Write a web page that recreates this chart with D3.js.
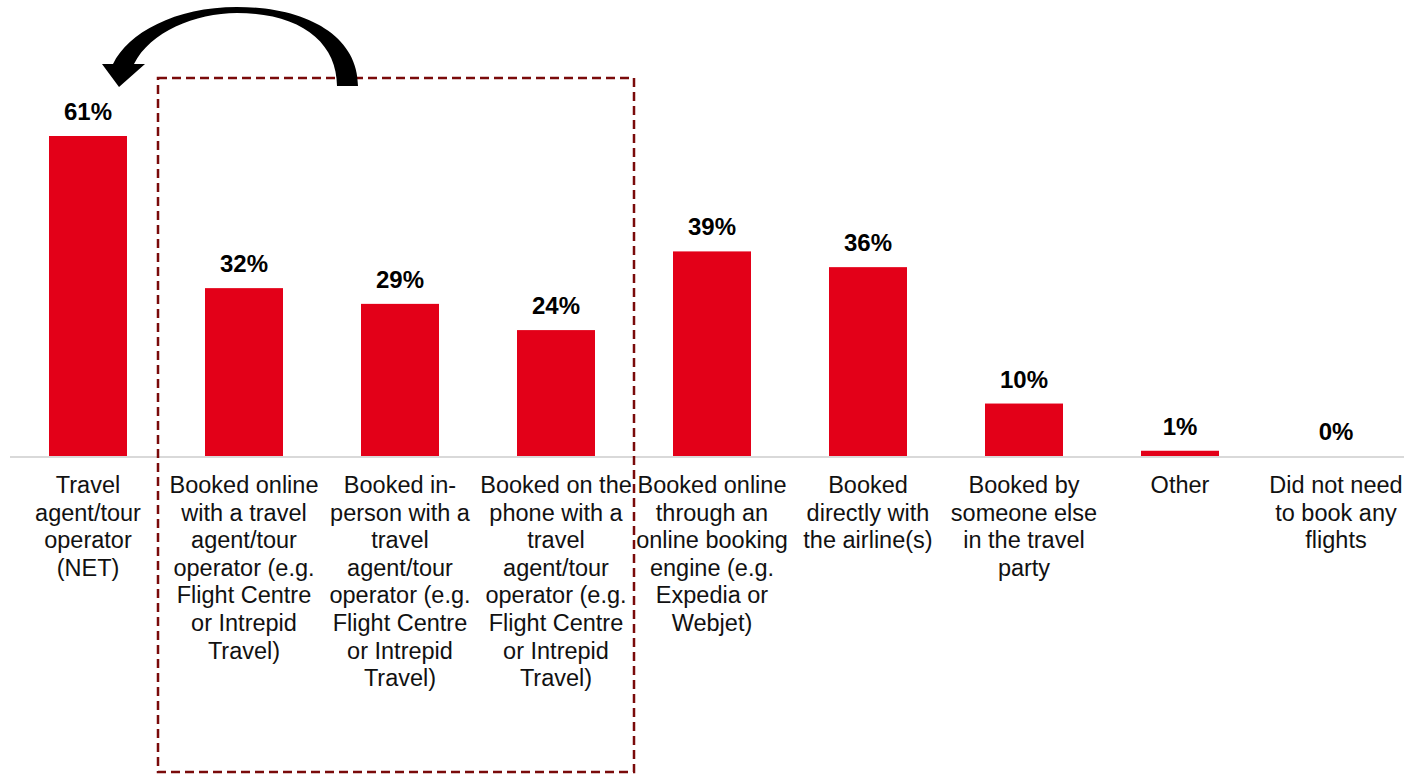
<!DOCTYPE html>
<html>
<head>
<meta charset="utf-8">
<title></title>
<style type="text/css">
  body { margin: 0; background: white; }
  svg { display: block; }
</style>
</head>
<body>
<div class="container"></div>
<script src="https://d3js.org/d3.v7.min.js"></script>
<script type="text/javascript">
var categories = [
  ["Travel", "agent/tour", "operator", "(NET)"],
  ["Booked online", "with a travel", "agent/tour", "operator (e.g.", "Flight Centre", "or Intrepid", "Travel)"],
  ["Booked in-", "person with a", "travel", "agent/tour", "operator (e.g.", "Flight Centre", "or Intrepid", "Travel)"],
  ["Booked on the", "phone with a", "travel", "agent/tour", "operator (e.g.", "Flight Centre", "or Intrepid", "Travel)"],
  ["Booked online", "through an", "online booking", "engine (e.g.", "Expedia or", "Webjet)"],
  ["Booked", "directly with", "the airline(s)"],
  ["Booked by", "someone else", "in the travel", "party"],
  ["Other"],
  ["Did not need", "to book any", "flights"]
]
var values = [61, 32, 29, 24, 39, 36, 10, 1, 0]

var wd = 1404
var ht = 775
var baseY = 456

var svg = d3.select(".container").append("svg")
  .attr("width", wd)
  .attr("height", ht)

var x = d3.scaleBand()
  .domain(d3.range(values.length))
  .range([10, 1414])
  .paddingInner(0.5)
  .paddingOuter(0.25)

var y = d3.scaleLinear()
  .domain([0, 61])
  .range([baseY, 136])

// bars
svg.selectAll("rect.bar")
  .data(values)
  .join("rect")
  .attr("class", "bar")
  .attr("x", function(d, i) { return x(i) })
  .attr("y", function(d) { return y(d) })
  .attr("width", x.bandwidth())
  .attr("height", function(d) { return baseY - y(d) })
  .attr("fill", "#e30018")

// axis line
svg.append("line")
  .attr("x1", 10).attr("x2", wd)
  .attr("y1", baseY + 1).attr("y2", baseY + 1)
  .attr("stroke", "#d9d9d9")
  .attr("stroke-width", 2)

// value labels
svg.selectAll("text.val")
  .data(values)
  .join("text")
  .attr("class", "val")
  .attr("x", function(d, i) { return x(i) + x.bandwidth() / 2 })
  .attr("y", function(d) { return y(d) - 16 })
  .attr("text-anchor", "middle")
  .style("font-family", "'Liberation Sans', Arial, sans-serif")
  .style("font-weight", "bold")
  .style("font-size", "24px")
  .text(function(d) { return d + "%" })

// category labels
var cat = svg.selectAll("text.cat")
  .data(categories)
  .join("text")
  .attr("class", "cat")
  .attr("text-anchor", "middle")
  .style("font-family", "'Liberation Sans', Arial, sans-serif")
  .style("font-size", "23.5px")
  .attr("fill", "#111")

cat.selectAll("tspan")
  .data(function(d, i) { return d.map(function(s) { return { s: s, i: i } }) })
  .join("tspan")
  .attr("x", function(d) { return x(d.i) + x.bandwidth() / 2 })
  .attr("y", function(d, j) { return 493 + j * 27.6 })
  .text(function(d) { return d.s })

// dashed box around the NET breakdown
svg.append("rect")
  .attr("x", 158).attr("y", 78)
  .attr("width", 476).attr("height", 694)
  .attr("fill", "none")
  .attr("stroke", "#7a0a0a")
  .attr("stroke-width", 2.5)
  .attr("stroke-dasharray", "9,5")

// curved arrow pointing back to the NET bar
svg.append("path")
  .attr("d", "M358,86 C358,35 305,7 237,7 C175,7 128,33 113,64 L102,64 L119,87 L145,64 L134,64 C150,32 195,13 237,13 C300,13 337,42 337,86 Z")
  .attr("fill", "black")
</script>
</body>
</html>
